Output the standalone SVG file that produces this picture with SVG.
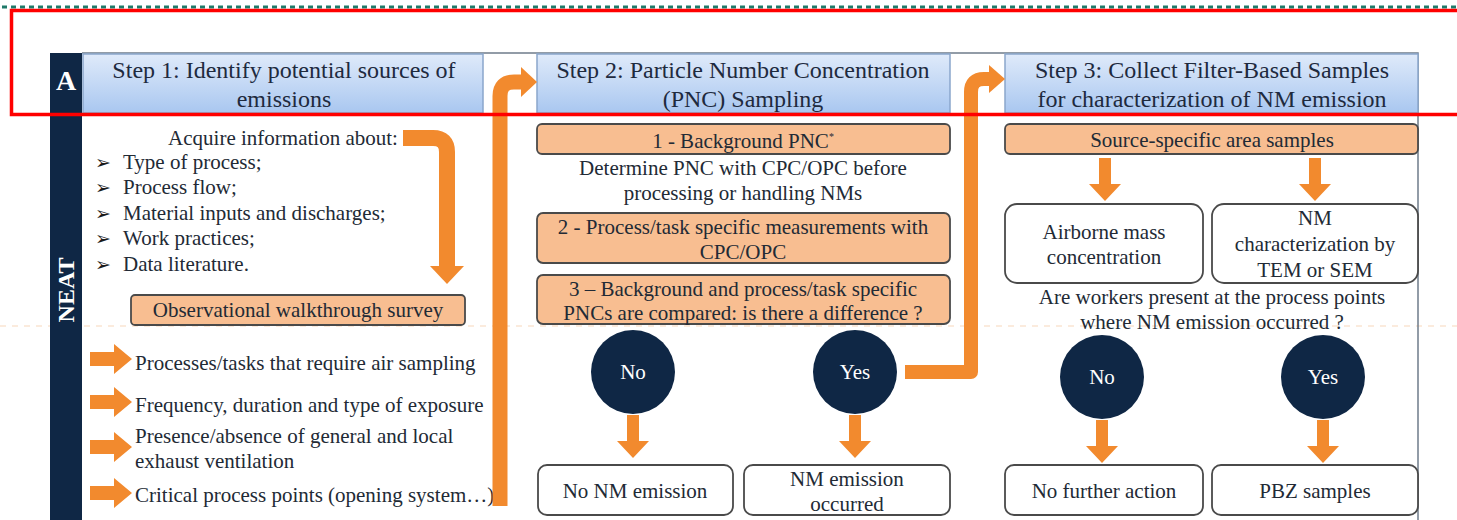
<svg xmlns="http://www.w3.org/2000/svg" width="1457" height="520" viewBox="0 0 1457 520">
<defs>
<linearGradient id="hdr" x1="0" y1="0" x2="0" y2="1">
<stop offset="0" stop-color="#dfeafa"/>
<stop offset="1" stop-color="#a9c7f0"/>
</linearGradient>
<path id="dn" d="M-6,0 H6 V26 H16 L0,43 L-16,26 H-6 Z"/>
<path id="rt" d="M0,-7 H24 V-15 L42,0 L24,15 V7 H0 Z"/>
</defs>
<style>
text{font-family:"Liberation Serif","Times New Roman",serif;fill:#222a35;font-size:21px}
.c{text-anchor:middle}
.h{font-size:24px;fill:#1e2a3e}
.bl{font-family:"DejaVu Sans",sans-serif;font-size:19px;fill:#1a1a1a}
.hb{fill:url(#hdr);stroke:#8aa6cc;stroke-width:1.5}
.ob{fill:#f8be91;stroke:#4a4a4a;stroke-width:1.8}
.wb{fill:#fff;stroke:#4a4a4a;stroke-width:1.8}
.ci{fill:#0f2745}
.ct{fill:#fff;text-anchor:middle}
.ar{fill:#f28a2e}
.big{fill:none;stroke:#f28a2e;stroke-linejoin:round}
</style>
<rect width="1457" height="520" fill="#fff"/>
<line x1="2" y1="7" x2="1457" y2="7" stroke="#1f7a6a" stroke-width="3" stroke-dasharray="5 4"/>
<line x1="0" y1="326" x2="1457" y2="326" stroke="#fbebdd" stroke-width="2" stroke-dasharray="6 6"/>

<g id="frame">
<path d="M82,53 H1418 V520" fill="none" stroke="#6f7c8a" stroke-width="1.5"/>
<rect x="50" y="53" width="32" height="467" fill="#0f2745"/>
<text x="66" y="90" class="c" style="fill:#fff;font-weight:bold;font-size:28px">A</text>
<text transform="translate(74,290) rotate(-90)" class="c" style="fill:#fff;font-weight:bold;font-size:24px">NEAT</text>
</g>

<g id="step1-header">
<rect class="hb" x="83" y="54" width="400" height="59"/>
<text x="284" y="78" class="c h">Step 1: Identify potential sources of</text>
<text x="284" y="107" class="c h">emissions</text>
</g>
<g id="step2-header">
<rect class="hb" x="537" y="54" width="413" height="59"/>
<text x="743" y="78" class="c h">Step 2: Particle Number Concentration</text>
<text x="743" y="107" class="c h">(PNC) Sampling</text>
</g>
<g id="step3-header">
<rect class="hb" x="1005" y="54" width="413" height="59"/>
<text x="1212" y="78" class="c h">Step 3: Collect Filter-Based Samples</text>
<text x="1212" y="107" class="c h">for characterization of NM emission</text>
</g>

<g id="acquire-info">
<text x="283" y="145" class="c">Acquire information about:</text>
<text x="95" y="169" class="bl">➢</text><text x="123" y="169">Type of process;</text>
<text x="95" y="194" class="bl">➢</text><text x="123" y="194">Process flow;</text>
<text x="95" y="220" class="bl">➢</text><text x="123" y="220">Material inputs and discharges;</text>
<text x="95" y="245" class="bl">➢</text><text x="123" y="245">Work practices;</text>
<text x="95" y="271" class="bl">➢</text><text x="123" y="271">Data literature.</text>
</g>

<g id="walkthrough">
<rect class="ob" x="131" y="295" width="334" height="30" rx="4"/>
<text x="298" y="317" class="c">Observational walkthrough survey</text>
</g>

<g id="item-sampling">
<use href="#rt" class="ar" x="90" y="359"/>
<text x="135" y="370">Processes/tasks that require air sampling</text>
</g>
<g id="item-frequency">
<use href="#rt" class="ar" x="90" y="402"/>
<text x="135" y="412">Frequency, duration and type of exposure</text>
</g>
<g id="item-ventilation">
<use href="#rt" class="ar" x="90" y="447"/>
<text x="135" y="443">Presence/absence of general and local</text>
<text x="135" y="468">exhaust ventilation</text>
</g>
<g id="item-critical">
<use href="#rt" class="ar" x="90" y="493"/>
<text x="135" y="502">Critical process points (opening system…)</text>
</g>

<g id="pnc-background">
<rect class="ob" x="537" y="124" width="413" height="30" rx="5"/>
<text x="743" y="148" class="c">1 - Background PNC<tspan dy="-8" font-size="10">*</tspan></text>
</g>
<g id="pnc-determine">
<text x="743" y="175" class="c">Determine PNC with CPC/OPC before</text>
<text x="743" y="200" class="c">processing or handling NMs</text>
</g>
<g id="pnc-process">
<rect class="ob" x="537" y="213" width="413" height="50" rx="6"/>
<text x="743" y="234" class="c">2 - Process/task specific measurements with</text>
<text x="743" y="259" class="c">CPC/OPC</text>
</g>
<g id="pnc-compare">
<rect class="ob" x="537" y="275" width="413" height="49" rx="6"/>
<text x="743" y="296" class="c">3 – Background and process/task specific</text>
<text x="743" y="320" class="c">PNCs are compared: is there a difference ?</text>
</g>
<g id="pnc-no">
<circle class="ci" cx="633" cy="372" r="42"/>
<text x="633" y="379" class="ct">No</text>
</g>
<g id="pnc-yes">
<circle class="ci" cx="855" cy="372" r="42"/>
<text x="855" y="379" class="ct">Yes</text>
</g>
<g id="no-emission">
<rect class="wb" x="538" y="465" width="195" height="50" rx="9"/>
<text x="635" y="498" class="c">No NM emission</text>
</g>
<g id="emission-occurred">
<rect class="wb" x="744" y="465" width="206" height="50" rx="9"/>
<text x="847" y="486" class="c">NM emission</text>
<text x="847" y="511" class="c">occurred</text>
</g>

<g id="source-samples">
<rect class="ob" x="1005" y="124" width="413" height="30" rx="5"/>
<text x="1212" y="147" class="c">Source-specific area samples</text>
</g>
<g id="airborne">
<rect class="wb" x="1005" y="204" width="198" height="79" rx="12"/>
<text x="1104" y="239" class="c">Airborne mass</text>
<text x="1104" y="264" class="c">concentration</text>
</g>
<g id="nm-characterization">
<rect class="wb" x="1212" y="204" width="206" height="79" rx="12"/>
<text x="1315" y="225" class="c">NM</text>
<text x="1315" y="251" class="c">characterization by</text>
<text x="1315" y="277" class="c">TEM or SEM</text>
</g>
<g id="workers-question">
<text x="1212" y="304" class="c">Are workers present at the process points</text>
<text x="1212" y="329" class="c">where NM emission occurred ?</text>
</g>
<g id="workers-no">
<circle class="ci" cx="1102" cy="377" r="42"/>
<text x="1102" y="384" class="ct">No</text>
</g>
<g id="workers-yes">
<circle class="ci" cx="1323" cy="377" r="42"/>
<text x="1323" y="384" class="ct">Yes</text>
</g>
<g id="no-further">
<rect class="wb" x="1005" y="465" width="198" height="50" rx="9"/>
<text x="1104" y="498" class="c">No further action</text>
</g>
<g id="pbz">
<rect class="wb" x="1212" y="465" width="206" height="50" rx="9"/>
<text x="1315" y="498" class="c">PBZ samples</text>
</g>

<g id="connectors">
<path class="big" stroke-width="16" d="M403,138 H433 Q447,138 447,152 V267"/>
<polygon class="ar" points="430,266 464,266 447,284"/>
<path class="big" stroke-width="15" d="M500,506 V96 Q500,82 514,82 H522"/>
<polygon class="ar" points="521,67 537,82 521,97"/>
<path class="big" stroke-width="14" d="M905,372 H971 V92 Q971,79 984,79 H990"/>
<polygon class="ar" points="989,65 1005,79 989,93"/>
<use href="#dn" class="ar" x="633" y="415"/>
<use href="#dn" class="ar" x="855" y="415"/>
<use href="#dn" class="ar" x="1105" y="158"/>
<use href="#dn" class="ar" x="1315" y="158"/>
<use href="#dn" class="ar" x="1102" y="420"/>
<use href="#dn" class="ar" x="1323" y="420"/>
</g>

<rect x="11.5" y="10.5" width="1460" height="104" fill="none" stroke="#ff0000" stroke-width="3.5"/>
</svg>
